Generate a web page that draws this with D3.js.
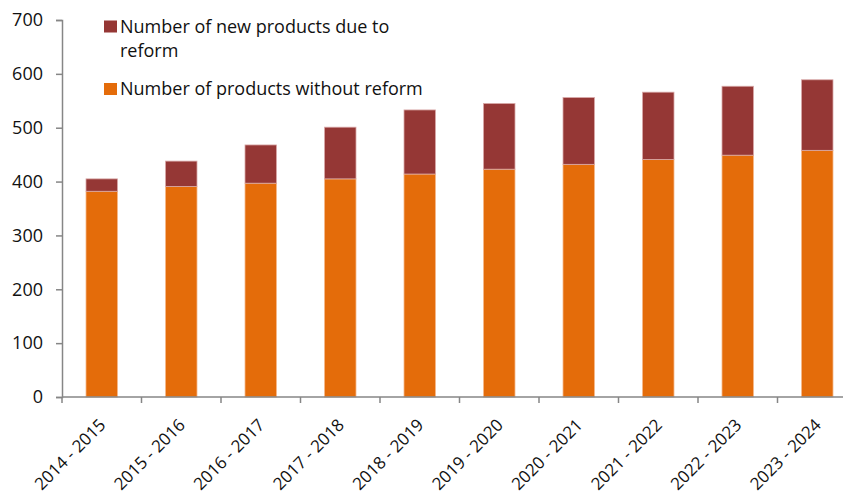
<!DOCTYPE html>
<html>
<head>
<meta charset="utf-8">
<script src="https://cdn.jsdelivr.net/npm/d3@7"></script>
<style>
  body { margin: 0; background: #fff; }
  text { font-family: "Open Sans", sans-serif; fill: #111; }
</style>
</head>
<body>
<div id="chart"></div>
<script>
var years = ["2014 - 2015", "2015 - 2016", "2016 - 2017", "2017 - 2018", "2018 - 2019",
             "2019 - 2020", "2020 - 2021", "2021 - 2022", "2022 - 2023", "2023 - 2024"];
var withoutReform = [382, 391, 397, 405, 414, 423, 432, 441, 449, 458];
var newProducts = [23, 47, 71, 96, 119, 122, 124, 125, 128, 131];
var yTicks = [0, 100, 200, 300, 400, 500, 600, 700];
var legendLines = [["Number of new products due to", "reform"], ["Number of products without reform"]];

var W = 843, H = 496;
var left = 62, plotTop = 20, bottom = 397;
var fontSize = "18px";

var svg = d3.select("#chart").append("svg")
  .attr("width", W)
  .attr("height", H);

var x = d3.scaleBand()
  .domain(years)
  .range([left, left + 79.5 * 10]);

var y = d3.scaleLinear()
  .domain([0, 700])
  .range([bottom, plotTop]);

var barW = 31.5;

var rows = years.map(function(d, i){
  return {year: d, base: withoutReform[i], extra: newProducts[i]};
});

var bars = svg.append("g");

bars.selectAll("rect.base")
  .data(rows)
  .enter().append("rect")
    .attr("class", "base")
    .attr("x", function(d){ return x(d.year) + x.bandwidth() / 2 - barW / 2; })
    .attr("y", function(d){ return y(d.base); })
    .attr("width", barW)
    .attr("height", function(d){ return y(0) - y(d.base); })
    .attr("fill", "#e46c0a")
    .attr("stroke", "#f5b98a")
    .attr("stroke-width", 0.8);

bars.selectAll("rect.extra")
  .data(rows)
  .enter().append("rect")
    .attr("class", "extra")
    .attr("x", function(d){ return x(d.year) + x.bandwidth() / 2 - barW / 2; })
    .attr("y", function(d){ return y(d.base + d.extra); })
    .attr("width", barW)
    .attr("height", function(d){ return y(d.base) - y(d.base + d.extra); })
    .attr("fill", "#953735")
    .attr("stroke", "#d9a9a8")
    .attr("stroke-width", 0.8);

// y axis
var yAxis = d3.axisLeft(y)
  .tickValues(yTicks)
  .tickSize(6)
  .tickPadding(13)
  .tickFormat(d3.format("d"));

var yg = svg.append("g")
  .attr("transform", "translate(" + left + ",0)")
  .call(yAxis);
yg.select(".domain").attr("stroke", "#868686").attr("stroke-width", 1.5);
yg.selectAll(".tick line").attr("stroke", "#868686").attr("stroke-width", 1.5);
yg.selectAll(".tick text")
  .style("font-size", fontSize)
  .style("font-family", "'Open Sans', sans-serif")
  .attr("fill", "#111");

// x axis line
svg.append("line")
  .attr("x1", left).attr("x2", W)
  .attr("y1", bottom).attr("y2", bottom)
  .attr("stroke", "#868686")
  .attr("stroke-width", 1.5);

// ticks between categories
svg.append("g").selectAll("line")
  .data(years)
  .enter().append("line")
    .attr("x1", function(d){ return x(d); })
    .attr("x2", function(d){ return x(d); })
    .attr("y1", bottom)
    .attr("y2", bottom + 6)
    .attr("stroke", "#868686")
    .attr("stroke-width", 1.5);

// rotated category labels
svg.append("g").selectAll("text")
  .data(years)
  .enter().append("text")
    .attr("transform", function(d){
      return "translate(" + (x(d) + x.bandwidth() / 2 + 5) + "," + (bottom + 29) + ") rotate(-45)";
    })
    .attr("text-anchor", "end")
    .style("font-size", "17px")
    .text(function(d){ return d; });

// legend
var legendColors = ["#953735", "#e46c0a"];
var legendY = [20.5, 83];
var legend = svg.append("g");
legendLines.forEach(function(lines, i){
  legend.append("rect")
    .attr("x", 104).attr("y", legendY[i]).attr("width", 13).attr("height", 12)
    .attr("fill", legendColors[i]);
  lines.forEach(function(t, j){
    legend.append("text")
      .attr("x", 120).attr("y", legendY[i] + 12 + j * 24)
      .style("font-size", fontSize)
      .text(t);
  });
});
</script>
</body>
</html>
